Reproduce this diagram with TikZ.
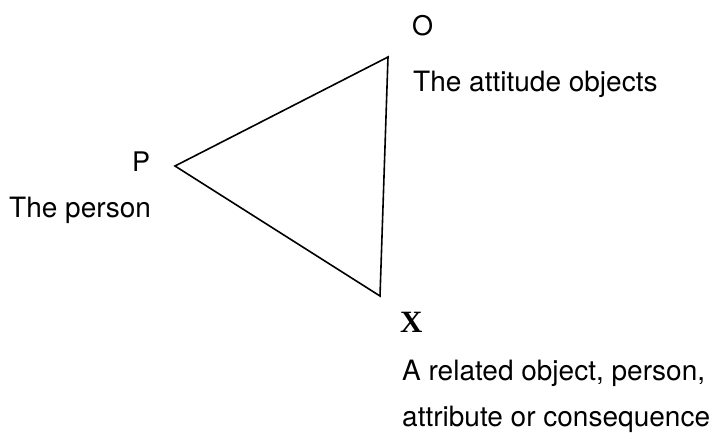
\documentclass[tikz,border=0pt]{standalone}
\usepackage{fontspec}
\setmainfont{TeX Gyre Heros}
\newfontfamily\xserif{Liberation Serif}
\begin{document}
\begin{tikzpicture}[x=1pt,y=-1pt,
  lbl/.style={anchor=base west,inner sep=0pt,font=\fontsize{28}{30}\selectfont},
  letter/.style={anchor=base west,inner sep=0pt,font=\fontsize{27}{29}\selectfont},
  edge/.style={draw=black,line width=1.6pt,line join=miter}]
\useasboundingbox (0,0) rectangle (717,436);
\coordinate (vO) at (388,57);
\coordinate (vP) at (175,166);
\coordinate (vX) at (380,296);
\draw[edge] (vO) -- (vP) -- (vX) -- cycle;
\node[letter] (O) at (412,36) {O};
\node[lbl] (Ot) at (413,91) {The attitude objects};
\node[letter] (P) at (132,171) {P};
\node[lbl] (Pt) at (9,217) {The person};
\node[anchor=base west,inner sep=0pt,font=\xserif\bfseries\fontsize{31}{32}\selectfont] (X) at (400,332) {X};
\node[lbl] (Xt1) at (402,380) {A related object, person,};
\node[lbl] (Xt2) at (402,426) {attribute or consequence};
\end{tikzpicture}
\end{document}
